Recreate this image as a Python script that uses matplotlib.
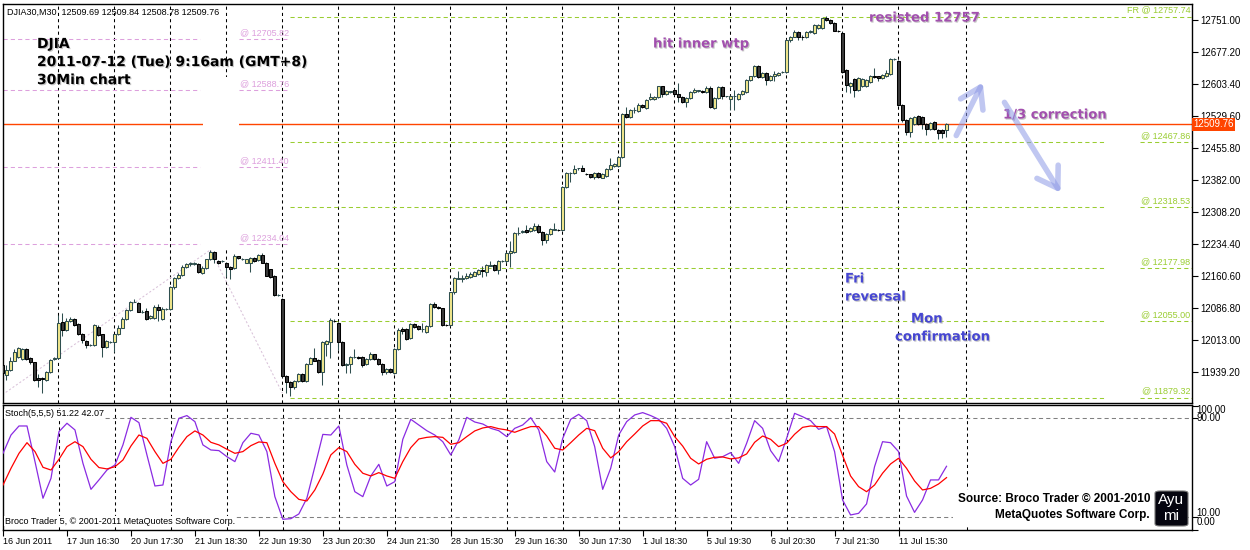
import matplotlib
matplotlib.use('Agg')
import matplotlib.pyplot as plt
import matplotlib.patheffects as pe
from matplotlib.patches import Rectangle, FancyBboxPatch, FancyArrowPatch
import numpy as np

plt.rcParams['font.family'] = ['Liberation Sans', 'DejaVu Sans']

# DJIA30 M30 candles, bar 0 = 16 Jun 2011
opens = [11955, 11932, 11942, 11964, 11972, 11968, 11992, 11970, 11961, 11924,
         11924, 11920, 11938, 11969, 11970, 12053, 12035, 12055, 12060, 12049,
         12026, 12010, 12001, 12001, 12043, 12025, 11997, 12008, 12007, 12025,
         12041, 12060, 12081, 12101, 12098, 12078, 12080, 12062, 12064, 12088,
         12061, 12084, 12084, 12135, 12155, 12162, 12181, 12188, 12187, 12187,
         12166, 12178, 12198, 12215, 12195, 12194, 12191, 12181, 12178, 12205,
         12198, 12191, 12191, 12201, 12197, 12208, 12191, 12175, 12161, 12116,
         12108, 11930, 11916, 11903, 11918, 11935, 11918, 11958, 11971, 11966,
         11938, 12004, 12008, 12057, 12051, 12007, 11955, 11958, 11972, 11973,
         11972, 11957, 11969, 11979, 11969, 11958, 11939, 11945, 11937, 11991,
         12038, 12037, 12016, 12050, 12045,
         12037, 12031, 12045, 12095, 12088, 12085, 12048, 12046, 12122, 12154,
         12154, 12155, 12158, 12161, 12165, 12174, 12169, 12184, 12185, 12174,
         12194, 12194, 12212, 12216, 12258, 12262, 12266, 12264, 12266, 12276,
         12262, 12243, 12257, 12267, 12267, 12266, 12366, 12397, 12397, 12408,
         12408, 12395, 12394, 12389, 12397, 12387, 12391, 12407, 12414, 12414,
         12435, 12533, 12526, 12542, 12541, 12554, 12547, 12568, 12568, 12572,
         12597, 12580, 12585, 12589, 12579, 12572, 12562, 12570, 12584, 12587,
         12586, 12585, 12594, 12548, 12570, 12595, 12574, 12568, 12575, 12568,
         12580, 12585, 12612, 12620, 12644, 12618, 12629, 12612, 12621, 12624,
         12630, 12631, 12704, 12712, 12723, 12712, 12710, 12723, 12720, 12731,
         12731, 12756, 12750, 12743, 12726, 12721, 12635, 12598, 12614, 12589,
         12597, 12598, 12608, 12621, 12620, 12616, 12621, 12626, 12660, 12656,
         12554, 12520, 12491, 12510, 12529, 12527, 12510, 12498, 12515, 12497,
         12497, 12496]
highs = [11960, 11955, 11974, 11992, 11996, 11995, 11993, 11972, 11962, 11935,
         11927, 11941, 11968, 11973, 12070, 12075, 12062, 12065, 12062, 12051,
         12028, 12012, 12003, 12049, 12048, 12027, 12012, 12010, 12027, 12046,
         12066, 12083, 12103, 12106, 12101, 12081, 12086, 12071, 12092, 12096,
         12088, 12086, 12136, 12158, 12166, 12185, 12190, 12193, 12192, 12190,
         12182, 12200, 12220, 12217, 12197, 12196, 12193, 12183, 12210, 12207,
         12201, 12200, 12203, 12203, 12210, 12212, 12193, 12177, 12163, 12118,
         12110, 11932, 11918, 11920, 11936, 11937, 11960, 11972, 11993, 11968,
         12010, 12012, 12064, 12060, 12053, 12009, 11960, 11975, 11991, 11975,
         11975, 11971, 11985, 11981, 11971, 11960, 11947, 11947, 11993, 12040,
         12042, 12040, 12052, 12052, 12047,
         12051, 12048, 12098, 12101, 12090, 12087, 12050, 12124, 12158, 12171,
         12163, 12166, 12169, 12172, 12176, 12182, 12187, 12195, 12188, 12196,
         12196, 12216, 12240, 12261, 12272, 12266, 12278, 12273, 12282, 12280,
         12264, 12259, 12270, 12281, 12269, 12368, 12400, 12400, 12417, 12410,
         12417, 12397, 12396, 12399, 12399, 12397, 12409, 12431, 12420, 12437,
         12535, 12550, 12545, 12550, 12558, 12556, 12568, 12581, 12575, 12599,
         12599, 12589, 12587, 12591, 12606, 12574, 12572, 12587, 12594, 12590,
         12588, 12597, 12597, 12572, 12598, 12597, 12576, 12578, 12589, 12582,
         12590, 12614, 12622, 12646, 12646, 12631, 12631, 12624, 12633, 12631,
         12632, 12706, 12714, 12727, 12726, 12716, 12726, 12727, 12741, 12741,
         12756, 12760, 12752, 12745, 12727, 12723, 12637, 12607, 12616, 12618,
         12616, 12614, 12624, 12639, 12622, 12626, 12635, 12662, 12662, 12658,
         12556, 12522, 12526, 12530, 12531, 12529, 12512, 12516, 12518, 12499,
         12499, 12512]
lows = [11898, 11920, 11940, 11963, 11970, 11966, 11966, 11958, 11917, 11905,
        11891, 11918, 11936, 11966, 11968, 12022, 12033, 12053, 12045, 12024,
        12005, 11993, 11999, 11999, 12022, 11974, 11995, 12006, 11985, 12023,
        12039, 12058, 12079, 12099, 12076, 12074, 12059, 12060, 12060, 12055,
        12059, 12082, 12082, 12130, 12152, 12160, 12179, 12184, 12185, 12166,
        12164, 12176, 12196, 12190, 12187, 12192, 12158, 12154, 12176, 12199,
        12196, 12189, 12168, 12193, 12195, 12189, 12159, 12156, 12113, 12113,
        11928, 11889, 11882, 11900, 11916, 11916, 11916, 11956, 11963, 11936,
        11908, 11975, 11970, 12054, 11990, 11953, 11937, 11937, 11970, 11968,
        11950, 11955, 11967, 11967, 11954, 11932, 11935, 11937, 11935, 11989,
        12025, 12013, 12014, 12041, 12036,
        12031, 12029, 12043, 12086, 12083, 12045, 12044, 12044, 12118, 12152,
        12147, 12153, 12156, 12159, 12163, 12157, 12160, 12182, 12172, 12165,
        12192, 12190, 12181, 12214, 12255, 12258, 12260, 12262, 12264, 12260,
        12231, 12236, 12255, 12265, 12264, 12264, 12363, 12377, 12395, 12405,
        12401, 12392, 12385, 12383, 12385, 12385, 12389, 12405, 12412, 12412,
        12433, 12525, 12524, 12535, 12539, 12547, 12545, 12566, 12566, 12570,
        12572, 12578, 12583, 12577, 12562, 12560, 12550, 12568, 12582, 12585,
        12583, 12583, 12548, 12546, 12568, 12568, 12572, 12543, 12543, 12566,
        12578, 12583, 12610, 12618, 12616, 12616, 12600, 12610, 12610, 12622,
        12628, 12629, 12700, 12710, 12705, 12704, 12708, 12721, 12718, 12729,
        12729, 12748, 12741, 12724, 12723, 12629, 12585, 12581, 12573, 12587,
        12595, 12596, 12606, 12616, 12610, 12614, 12619, 12624, 12659, 12552,
        12516, 12484, 12481, 12508, 12508, 12500, 12485, 12496, 12496, 12477,
        12478, 12480]
closes = [11937, 11943, 11964, 11984, 11993, 11991, 11969, 11961, 11919, 11920,
          11923, 11939, 11966, 11971, 12051, 12035, 12057, 12060, 12047, 12026,
          12012, 12001, 12001, 12047, 12024, 11997, 12010, 12008, 12025, 12041,
          12060, 12081, 12101, 12101, 12078, 12078, 12061, 12068, 12088, 12082,
          12084, 12084, 12134, 12155, 12162, 12181, 12187, 12189, 12190, 12168,
          12178, 12198, 12215, 12199, 12189, 12194, 12181, 12175, 12206, 12201,
          12198, 12198, 12201, 12195, 12208, 12191, 12161, 12158, 12116, 12116,
          11930, 11916, 11903, 11918, 11934, 11918, 11958, 11970, 11965, 11938,
          12007, 12010, 12058, 12056, 12007, 11955, 11958, 11972, 11972, 11970,
          11955, 11969, 11979, 11969, 11956, 11939, 11945, 11939, 11991, 12035,
          12033, 12015, 12049, 12043, 12038,
          12038, 12045, 12095, 12088, 12085, 12047, 12046, 12122, 12155, 12155,
          12155, 12160, 12165, 12168, 12174, 12171, 12185, 12185, 12174, 12194,
          12194, 12214, 12218, 12258, 12259, 12263, 12262, 12270, 12276, 12262,
          12243, 12257, 12268, 12268, 12266, 12366, 12397, 12398, 12406, 12408,
          12403, 12394, 12388, 12397, 12388, 12394, 12407, 12416, 12418, 12435,
          12533, 12527, 12543, 12543, 12554, 12549, 12566, 12573, 12573, 12597,
          12580, 12587, 12586, 12579, 12572, 12562, 12570, 12585, 12590, 12588,
          12585, 12594, 12550, 12570, 12595, 12576, 12574, 12576, 12575, 12580,
          12587, 12612, 12620, 12644, 12618, 12629, 12612, 12622, 12625, 12629,
          12630, 12704, 12712, 12723, 12710, 12711, 12723, 12724, 12739, 12739,
          12754, 12750, 12743, 12726, 12725, 12631, 12600, 12604, 12589, 12616,
          12614, 12612, 12621, 12618, 12616, 12624, 12627, 12660, 12661, 12554,
          12520, 12491, 12524, 12527, 12510, 12510, 12498, 12513, 12498, 12489,
          12490, 12509.76]

# Stochastic(5,5,5), read every 2nd bar
stoch_k = [61.7, 76.5, 83.8, 83.8, 55.0, 25.4, 41.5, 79.2, 86.0, 80.6,
           53.6, 32.6, 40.2, 48.2, 52.3, 68.5, 90.8, 86.5, 60.4, 35.3,
           36.1, 71.1, 90.0, 92.2, 87.3, 68.5, 64.4, 63.9, 59.0, 55.0,
           70.3, 77.9, 76.5, 63.1, 26.7, 8.4, 8.9, 12.7, 25.4, 50.9,
           77.0,
           76.5, 83.8, 52.3, 30.7, 26.7, 43.4, 52.8, 35.3, 38.8, 73.0,
           89.2, 84.6, 80.0, 76.5, 71.1, 60.4, 72.5, 90.8, 87.0, 85.4,
           81.9, 80.0, 75.2, 81.9, 84.6, 90.5, 80.6, 55.0, 46.6, 73.8,
           89.2, 93.2, 88.1, 67.1, 32.6, 49.6, 76.5, 87.3, 92.7, 94.6,
           92.2, 89.2, 81.9, 67.1, 41.5, 36.1, 40.7, 71.1, 57.7, 59.0,
           62.3, 53.6, 69.8, 88.1, 81.9, 63.9, 55.0, 73.8, 94.0, 91.3,
           88.1, 81.1, 83.3, 63.1, 24.0, 11.9, 13.2, 20.8, 50.9, 71.1,
           70.3, 63.1, 27.2, 14.0, 24.0, 40.2, 40.2, 51.22]
stoch_d = [36.1, 49.6, 61.7, 70.3, 63.1, 50.4, 48.2, 56.9, 67.1, 71.1,
           67.1, 56.9, 50.2, 49.1, 50.9, 56.3, 67.6, 76.5, 73.8, 63.1,
           53.6, 56.9, 66.6, 75.2, 79.8, 76.5, 70.6, 68.5, 65.0, 61.7,
           63.1, 67.9, 70.9, 70.3, 53.6, 38.8, 30.7, 24.5, 23.2, 32.1,
           45.0,
           60.4, 66.3, 63.1, 52.8, 45.6, 43.4, 46.1, 43.4, 41.5, 55.0,
           66.3, 73.3, 74.6, 75.2, 74.6, 69.0, 70.3, 75.2, 79.8, 82.2,
           83.3, 81.6, 80.6, 78.7, 81.1, 83.3, 83.3, 75.7, 65.8, 64.4,
           70.3, 76.5, 81.9, 80.0, 65.8, 58.0, 63.1, 71.1, 77.3, 83.8,
           88.1, 88.1, 86.0, 75.2, 67.6, 57.7, 53.1, 56.9, 58.5, 58.8,
           57.2, 58.0, 61.2, 70.6, 75.7, 73.0, 67.1, 69.8, 77.1, 82.7,
           83.8, 83.3, 83.3, 77.3, 60.0, 43.4, 34.8, 30.7, 36.1, 45.6,
           53.1, 57.7, 49.6, 39.4, 32.1, 33.4, 36.9, 42.07]

price_ticks = [11939.20, 12013.00, 12086.80, 12160.60, 12234.40, 12308.20,
               12382.00, 12455.80, 12529.60, 12603.40, 12677.20, 12751.00]
date_labels = ['16 Jun 2011', '17 Jun 16:30', '20 Jun 17:30', '21 Jun 18:30',
               '22 Jun 19:30', '23 Jun 20:30', '24 Jun 21:30', '28 Jun 15:30',
               '29 Jun 16:30', '30 Jun 17:30', '1 Jul 18:30', '5 Jul 19:30',
               '6 Jul 20:30', '7 Jul 21:30', '11 Jul 15:30']
date_bars = [0, 16, 32, 48, 64, 80, 96, 112, 128, 144, 160, 176, 192, 208, 224]
grid_bars = [14, 28, 42, 56, 70, 84, 98, 112, 126, 140, 154, 168, 182, 196, 210, 224, 241]

last_price = 12509.76
pink_levels = [12705.82, 12588.76, 12411.40, 12234.04]
green_levels = [12467.86, 12318.53, 12177.98, 12055.00, 11879.32]
fr_level = 12757.74
fib_anchor_bars = [0, 52, 70]
fib_anchor_prices = [11886, 12220, 11890]

W, H = 1250, 550
def fx(x):
    return x / W
def fy(y):
    return 1 - y / H

fig = plt.figure(figsize=(12.5, 5.5), dpi=100)
fig.patch.set_facecolor('white')

XL = (0.175, 297.4)
ax = fig.add_axes([fx(3), fy(402.7), fx(1189), 398.7 / H])
ax2 = fig.add_axes([fx(3), fy(530), fx(1189), 125 / H])
for a in (ax, ax2):
    a.set_xlim(*XL)
    for s in a.spines.values():
        s.set_color('black')
        s.set_linewidth(1)
    for b in grid_bars:
        a.axvline(b, color='black', lw=0.75, ls=(0, (3, 3)), zorder=1)
ax.set_ylim(11867.7, 12787.2)
ax2.set_ylim(-0.26, 100.75)

# fib lines
pink = '#DDA0DD'
green = '#9ACD32'
for lv in pink_levels:
    ax.hlines(lv, XL[0], 49.4, color=pink, lw=0.75, ls=(0, (4, 3)), zorder=2)
    ax.hlines(lv, 59.2, 71.4, color=pink, lw=0.75, ls=(0, (4, 3)), zorder=2)
    ax.annotate('@ %.2f' % lv, (59.4, lv), xytext=(0, 1.5), textcoords='offset points',
                ha='left', va='bottom', fontsize=6.5, color=pink)
for lv in green_levels:
    ax.hlines(lv, 71.9, 275.7, color=green, lw=0.75, ls=(0, (4, 3)), zorder=2)
    ax.hlines(lv, 284.4, XL[1], color=green, lw=0.75, ls=(0, (4, 3)), zorder=2)
    ax.annotate('@ %.2f' % lv, (297.0, lv), xytext=(0, 1.5), textcoords='offset points',
                ha='right', va='bottom', fontsize=6.5, color=green)
ax.hlines(fr_level, 71.9, XL[1], color=green, lw=0.75, ls=(0, (4, 3)), zorder=2)
ax.annotate('FR @ %.2f' % fr_level, (297.0, fr_level), xytext=(0, 1.5), textcoords='offset points',
            ha='right', va='bottom', fontsize=6.5, color=green)
ax.plot(fib_anchor_bars, fib_anchor_prices, color='#D9C2D9', lw=0.75, ls=(0, (2, 2)), zorder=2)

ax.axhline(last_price, color='#FF4500', lw=1, zorder=2)
ax.add_patch(Rectangle((50.2, 12224.5), 9.0, 394.4, facecolor='white', edgecolor='none', zorder=2.5))

# candles
x = np.arange(len(closes))
o = np.array(opens, float)
c = np.array(closes, float)
bull = c >= o
ax.vlines(x, lows, highs, color='#2F4F4F', lw=0.75, zorder=3)
ax.bar(x, np.abs(c - o), bottom=np.minimum(o, c), width=0.62,
       color=np.where(bull, '#F0E68C', '#3A3A3A'),
       edgecolor=np.where(bull, '#2F4F4F', '#000000'), linewidth=0.75, zorder=4)

ax.set_xticks([])
ax.yaxis.tick_right()
ax.set_yticks(price_ticks)
ax.set_yticklabels(['%.2f' % v for v in price_ticks])
ax.tick_params(axis='y', direction='out', length=4, width=0.8, pad=2, labelsize=7)
ax.text(1.001, last_price, '%.2f' % last_price, transform=ax.get_yaxis_transform(),
        ha='left', va='center', color='white', fontsize=7,
        bbox=dict(boxstyle='square,pad=0.15', fc='#FF4500', ec='none'))

# stochastic
sx = np.arange(0, len(closes), 2)
ax2.axhline(90, color='#808080', lw=0.75, ls=(0, (4, 3)), zorder=1)
ax2.axhline(10, color='#808080', lw=0.75, ls=(0, (4, 3)), zorder=1)
ax2.plot(sx, stoch_k, color='#8A2BE2', lw=0.9, zorder=3)
ax2.plot(sx, stoch_d, color='#FF0000', lw=0.9, zorder=3)
ax2.yaxis.tick_right()
ax2.set_yticks([0, 10, 90, 100])
ax2.set_yticklabels([])
ax2.tick_params(axis='y', direction='out', length=4, width=0.8)
for val, lab in [(96.7, '100.00'), (90.2, '90.00'), (13.5, '10.00'), (6.2, '0.00')]:
    ax2.text(1.004, val, lab, transform=ax2.get_yaxis_transform(), ha='left', va='center', fontsize=7)
ax2.set_xticks(date_bars)
ax2.set_xticklabels(date_labels, fontsize=6.5)
for lbl in ax2.get_xticklabels():
    lbl.set_ha('left')
ax2.tick_params(axis='x', direction='out', length=4, width=0.8, pad=1)

# texts
small = dict(fontsize=6.5, va='center', ha='left')
fig.text(fx(7), fy(12), 'DJIA30,M30  12509.69 12509.84 12508.78 12509.76', **small)
fig.text(fx(5), fy(414), 'Stoch(5,5,5) 51.22 42.07',
         bbox=dict(fc='white', ec='none', pad=0.6), **small)
fig.text(fx(5), fy(521), 'Broco Trader 5, \u00a9 2001-2011 MetaQuotes Software Corp.',
         bbox=dict(fc='white', ec='none', pad=0.6), **small)

shadow = [pe.withSimplePatchShadow(offset=(0.8, -0.8), shadow_rgbFace='#aaaaaa', alpha=0.7)]
for yy, t in [(44, 'DJIA'), (62, '2011-07-12 (Tue) 9:16am (GMT+8)'), (80, '30Min chart')]:
    fig.text(fx(37), fy(yy), t, family='DejaVu Sans', weight='bold', fontsize=10,
             va='center', ha='left', path_effects=shadow)

purple = '#A24FAE'
ann = dict(family='DejaVu Sans', weight='bold', fontsize=9.5, va='center', ha='left', path_effects=shadow)
fig.text(fx(653), fy(44), 'hit inner wtp', color=purple, **ann)
fig.text(fx(869), fy(18), 'resisted 12757', color=purple, **ann)
fig.text(fx(1003), fy(115), '1/3 correction', color=purple, **ann)
blue = '#4646D2'
fig.text(fx(845), fy(279), 'Fri', color=blue, **ann)
fig.text(fx(845), fy(297), 'reversal', color=blue, **ann)
fig.text(fx(911), fy(319), 'Mon', color=blue, **ann)
fig.text(fx(895), fy(337), 'confirmation', color=blue, **ann)

for (x0, y0), (x1, y1) in [((955, 138), (984, 80)), ((1003, 100), (1062, 195))]:
    fig.add_artist(FancyArrowPatch((fx(x0), fy(y0)), (fx(x1), fy(y1)), transform=fig.transFigure,
                                   arrowstyle='->,head_length=0.7,head_width=0.45', mutation_scale=20,
                                   lw=4, color='#8D99E6', alpha=0.55, zorder=5))

fig.add_artist(Rectangle((fx(953), fy(526)), fx(200), 36 / H, transform=fig.transFigure,
                         facecolor='white', edgecolor='none', zorder=4))
src = dict(family='Liberation Sans', weight='bold', fontsize=8.5, ha='right', va='center', zorder=5)
fig.text(fx(1150), fy(499), 'Source: Broco Trader \u00a9 2001-2010', **src)
fig.text(fx(1150), fy(515), 'MetaQuotes Software Corp.', **src)
fig.add_artist(FancyBboxPatch((fx(1155), fy(526)), fx(33), 35 / H, transform=fig.transFigure,
                              boxstyle='round,pad=0,rounding_size=0.004', fc='#05050f', ec='#777777',
                              lw=0.8, zorder=5))
fig.text(fx(1171.5), fy(500), 'Ayu', color='white', fontsize=11, ha='center', va='center', zorder=6)
fig.text(fx(1171.5), fy(516), 'mi', color='white', fontsize=11, ha='center', va='center', zorder=6)

fig.savefig('out.png', dpi=100)
